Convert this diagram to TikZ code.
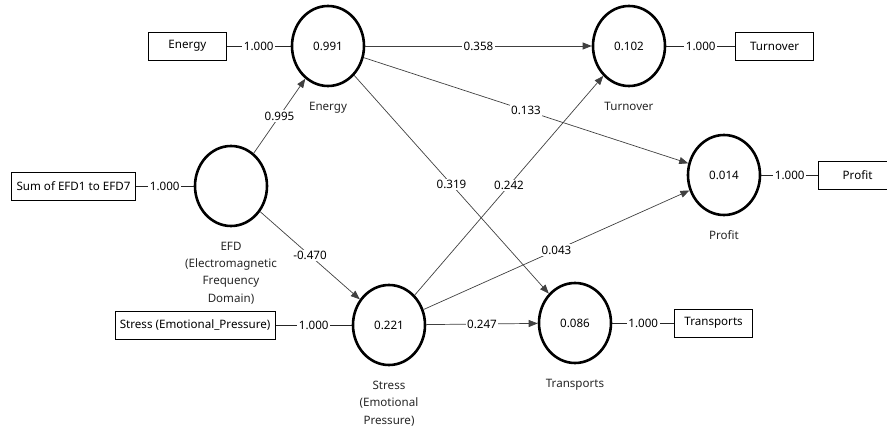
\documentclass[tikz,border=0pt]{standalone}
\usepackage{fontspec}
\setmainfont{Noto Sans}
\usetikzlibrary{positioning,shapes.geometric,arrows.meta}

\begin{document}
\begin{tikzpicture}[x=1pt, y=-1pt, font=\fontsize{11.6}{17.4}\selectfont,
    lv/.style={ellipse, draw, line width=2.6pt, minimum width=72pt, minimum height=80pt, inner sep=0pt},
    mv/.style={rectangle, draw, line width=0.6pt, minimum width=78pt, minimum height=28pt, inner xsep=5pt},
    every label/.style={align=center, text=black!85},
    label distance=11pt,
    load/.style={draw=black!85, line width=0.7pt},
    arr/.style={draw=black!75, line width=0.7pt, -{Triangle[length=9pt,width=7pt]}},
    coef/.style={fill=white, inner sep=1.5pt}]

    \useasboundingbox (0,0) rectangle (887,428);

    % latent variables
    \node[lv, label=below:Energy] (energy) at (328,46) {0.991};
    \node[lv, label={below:EFD\\(Electromagnetic\\Frequency\\Domain)}] (efd) at (231,186) {};
    \node[lv, label={below:Stress\\(Emotional\\Pressure)}] (stress) at (389,325) {0.221};
    \node[lv, label=below:Turnover] (turnover) at (629,46) {0.102};
    \node[lv, label=below:Profit] (profit) at (724,175) {0.014};
    \node[lv, label=below:Transports] (transports) at (575,323) {0.086};

    % indicators
    \node[mv, left=64pt of energy] (energybox) {Energy};
    \node[mv, left=58pt of efd] (efdbox) {Sum of EFD1 to EFD7};
    \node[mv, left=76pt of stress] (stressbox) {Stress (Emotional\_Pressure)};
    \node[mv, right=69pt of turnover] (turnoverbox) {Turnover};
    \node[mv, right=57pt of profit] (profitbox) {Profit};
    \node[mv, right=62pt of transports] (transportsbox) {Transports};

    \draw[load] (energybox) -- node[coef] {1.000} (energy);
    \draw[load] (efdbox) -- node[coef] {1.000} (efd);
    \draw[load] (stressbox) -- node[coef] {1.000} (stress);
    \draw[load] (turnover) -- node[coef] {1.000} (turnoverbox);
    \draw[load] (profit) -- node[coef] {1.000} (profitbox);
    \draw[load] (transports) -- node[coef] {1.000} (transportsbox);

    % paths
    \draw[arr] (efd) -- node[coef] {0.995} (energy);
    \draw[arr] (efd) -- node[coef] {-0.470} (stress);
    \draw[arr] (energy) -- node[coef] {0.358} (turnover);
    \draw[arr] (energy) -- node[coef] {0.133} (profit);
    \draw[arr] (stress) -- node[coef] {0.242} (turnover);
    \draw[arr] (energy) -- node[coef] {0.319} (transports);
    \draw[arr] (stress) -- node[coef] {0.043} (profit);
    \draw[arr] (stress) -- node[coef] {0.247} (transports);

\end{tikzpicture}
\end{document}
